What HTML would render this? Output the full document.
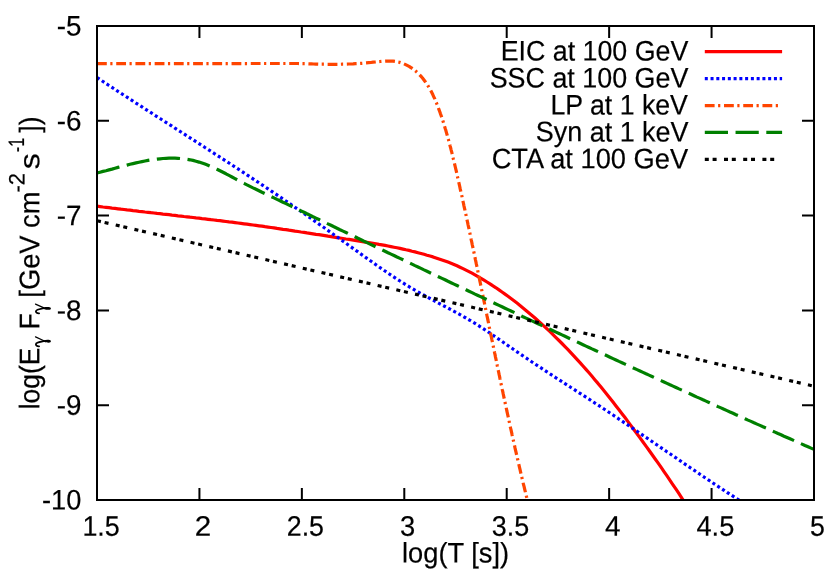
<!DOCTYPE html>
<html><head><meta charset="utf-8"><title>plot</title>
<style>
html,body{margin:0;padding:0;background:#fff;}
body{width:830px;height:581px;overflow:hidden;}
svg{display:block;will-change:transform;}
text{font-family:"Liberation Sans",sans-serif;font-size:28.3px;fill:#000;stroke:#000;stroke-width:0.2px;text-rendering:geometricPrecision;}
</style></head><body>
<svg width="830" height="581" viewBox="0 0 830 581">

<defs><clipPath id="c"><rect x="97" y="26" width="717" height="474"/></clipPath></defs>
<g clip-path="url(#c)">
<path d="M97.0 206.2L100.0 206.6L103.0 207.0L106.0 207.3L109.0 207.7L112.0 208.1L115.0 208.4L118.0 208.8L121.0 209.2L124.0 209.5L127.0 209.9L130.0 210.2L133.0 210.6L136.0 210.9L139.0 211.3L142.0 211.6L145.0 212.0L148.0 212.3L151.0 212.7L154.0 213.0L157.0 213.4L160.0 213.7L163.0 214.1L166.0 214.4L169.0 214.7L172.0 215.1L175.0 215.4L178.0 215.8L181.0 216.1L184.0 216.5L187.0 216.8L190.0 217.2L193.0 217.5L196.0 217.9L199.0 218.2L202.0 218.6L205.0 218.9L208.0 219.3L211.0 219.7L214.0 220.0L217.0 220.4L220.0 220.7L223.0 221.1L226.0 221.5L229.0 221.9L232.0 222.2L235.0 222.6L238.0 223.0L241.0 223.4L244.0 223.8L247.0 224.2L250.0 224.6L253.0 225.0L256.0 225.4L259.0 225.8L262.0 226.2L265.0 226.7L268.0 227.1L271.0 227.5L274.0 227.9L277.0 228.4L280.0 228.8L283.0 229.3L286.0 229.7L289.0 230.2L292.0 230.6L295.0 231.1L298.0 231.5L301.0 232.0L304.0 232.4L307.0 232.9L310.0 233.3L313.0 233.8L316.0 234.3L319.0 234.7L322.0 235.2L325.0 235.7L328.0 236.2L331.0 236.6L334.0 237.1L337.0 237.6L340.0 238.0L343.0 238.5L346.0 239.0L349.0 239.4L352.0 239.9L355.0 240.4L358.0 240.9L361.0 241.3L364.0 241.8L367.0 242.3L370.0 242.8L373.0 243.3L376.0 243.8L379.0 244.4L382.0 244.9L385.0 245.4L388.0 246.0L391.0 246.6L394.0 247.2L397.0 247.8L400.0 248.4L403.0 249.1L406.0 249.8L409.0 250.4L412.0 251.2L415.0 251.9L418.0 252.7L421.0 253.5L424.0 254.3L427.0 255.2L430.0 256.0L433.0 256.9L436.0 257.9L439.0 258.9L442.0 259.9L445.0 261.0L448.0 262.1L451.0 263.3L454.0 264.5L457.0 265.8L460.0 267.2L463.0 268.6L466.0 270.1L469.0 271.6L472.0 273.2L475.0 274.9L478.0 276.6L481.0 278.4L484.0 280.2L487.0 282.0L490.0 283.9L493.0 285.9L496.0 287.8L499.0 289.9L502.0 292.0L505.0 294.1L508.0 296.3L511.0 298.5L514.0 300.8L517.0 303.1L520.0 305.5L523.0 307.9L526.0 310.4L529.0 312.9L532.0 315.4L535.0 318.0L538.0 320.7L541.0 323.4L544.0 326.1L547.0 328.9L550.0 331.7L553.0 334.6L556.0 337.6L559.0 340.5L562.0 343.5L565.0 346.6L568.0 349.7L571.0 352.9L574.0 356.1L577.0 359.4L580.0 362.6L583.0 366.0L586.0 369.4L589.0 372.8L592.0 376.3L595.0 379.9L598.0 383.4L601.0 387.1L604.0 390.7L607.0 394.4L610.0 398.2L613.0 402.0L616.0 405.9L619.0 409.7L622.0 413.7L625.0 417.6L628.0 421.6L631.0 425.6L634.0 429.7L637.0 433.8L640.0 437.9L643.0 442.0L646.0 446.1L649.0 450.3L652.0 454.5L655.0 458.7L658.0 462.9L661.0 467.2L664.0 471.6L667.0 475.9L670.0 480.3L673.0 484.8L676.0 489.2L679.0 493.7L682.0 498.3L685.0 502.9L688.0 507.5L691.0 512.2L694.0 517.0L697.0 521.8" stroke="#ff0000" stroke-width="3.2" fill="none" stroke-linejoin="round"/>
<path d="M97.0 77.6L100.0 79.5L103.0 81.5L106.0 83.5L109.0 85.5L112.0 87.4L115.0 89.4L118.0 91.4L121.0 93.3L124.0 95.3L127.0 97.2L130.0 99.2L133.0 101.1L136.0 103.1L139.0 105.0L142.0 106.9L145.0 108.9L148.0 110.8L151.0 112.7L154.0 114.7L157.0 116.6L160.0 118.5L163.0 120.5L166.0 122.4L169.0 124.3L172.0 126.2L175.0 128.2L178.0 130.1L181.0 132.0L184.0 133.9L187.0 135.9L190.0 137.8L193.0 139.7L196.0 141.7L199.0 143.6L202.0 145.5L205.0 147.5L208.0 149.4L211.0 151.3L214.0 153.3L217.0 155.2L220.0 157.2L223.0 159.1L226.0 161.1L229.0 163.0L232.0 165.0L235.0 167.0L238.0 168.9L241.0 170.9L244.0 172.9L247.0 174.9L250.0 176.8L253.0 178.8L256.0 180.8L259.0 182.8L262.0 184.8L265.0 186.8L268.0 188.8L271.0 190.9L274.0 192.9L277.0 194.9L280.0 197.0L283.0 199.0L286.0 201.1L289.0 203.1L292.0 205.2L295.0 207.3L298.0 209.3L301.0 211.4L304.0 213.5L307.0 215.6L310.0 217.7L313.0 219.8L316.0 222.0L319.0 224.1L322.0 226.2L325.0 228.3L328.0 230.5L331.0 232.6L334.0 234.8L337.0 236.9L340.0 239.0L343.0 241.2L346.0 243.3L349.0 245.5L352.0 247.6L355.0 249.8L358.0 251.9L361.0 254.1L364.0 256.2L367.0 258.4L370.0 260.5L373.0 262.6L376.0 264.8L379.0 266.9L382.0 268.9L385.0 271.0L388.0 273.1L391.0 275.1L394.0 277.1L397.0 279.1L400.0 281.0L403.0 282.9L406.0 284.8L409.0 286.6L412.0 288.4L415.0 290.2L418.0 291.9L421.0 293.6L424.0 295.2L427.0 296.9L430.0 298.5L433.0 300.1L436.0 301.7L439.0 303.3L442.0 304.9L445.0 306.5L448.0 308.1L451.0 309.7L454.0 311.3L457.0 312.9L460.0 314.6L463.0 316.3L466.0 318.0L469.0 319.8L472.0 321.6L475.0 323.4L478.0 325.3L481.0 327.2L484.0 329.2L487.0 331.2L490.0 333.2L493.0 335.2L496.0 337.3L499.0 339.3L502.0 341.4L505.0 343.5L508.0 345.6L511.0 347.6L514.0 349.7L517.0 351.8L520.0 353.8L523.0 355.9L526.0 357.9L529.0 359.9L532.0 362.0L535.0 364.0L538.0 366.0L541.0 367.9L544.0 369.9L547.0 371.9L550.0 373.9L553.0 375.8L556.0 377.8L559.0 379.7L562.0 381.6L565.0 383.6L568.0 385.5L571.0 387.5L574.0 389.4L577.0 391.4L580.0 393.3L583.0 395.2L586.0 397.2L589.0 399.1L592.0 401.1L595.0 403.1L598.0 405.0L601.0 407.0L604.0 409.0L607.0 411.0L610.0 413.0L613.0 415.0L616.0 417.0L619.0 419.1L622.0 421.1L625.0 423.1L628.0 425.1L631.0 427.2L634.0 429.2L637.0 431.2L640.0 433.3L643.0 435.4L646.0 437.4L649.0 439.4L652.0 441.5L655.0 443.6L658.0 445.6L661.0 447.7L664.0 449.7L667.0 451.8L670.0 453.8L673.0 455.9L676.0 457.9L679.0 460.0L682.0 462.0L685.0 464.1L688.0 466.1L691.0 468.2L694.0 470.2L697.0 472.2L700.0 474.3L703.0 476.3L706.0 478.3L709.0 480.3L712.0 482.4L715.0 484.4L718.0 486.4L721.0 488.3L724.0 490.3L727.0 492.3L730.0 494.3L733.0 496.2L736.0 498.2L739.0 500.1L742.0 502.1L745.0 504.0L748.0 505.9L751.0 507.8L754.0 509.7L757.0 511.6" stroke="#0000ff" stroke-width="3.2" fill="none" stroke-linejoin="round" stroke-dasharray="3 2.76"/>
<path d="M97.0 63.6L298.0 63.5L300.2 63.6L302.5 63.7L304.7 63.7L307.0 63.8L309.2 63.9L311.4 63.9L313.6 64.0L315.9 64.1L318.1 64.1L320.3 64.2L322.5 64.2L324.7 64.2L326.9 64.3L329.1 64.3L331.2 64.3L333.4 64.3L335.6 64.3L337.8 64.3L340.0 64.3L342.2 64.2L344.4 64.2L346.5 64.1L348.7 64.0L350.9 64.0L353.1 63.9L355.3 63.7L357.5 63.6L359.7 63.5L361.9 63.3L364.2 63.1L366.4 62.9L368.6 62.7L370.9 62.5L373.1 62.2L375.4 62.0L377.6 61.7L379.9 61.5L382.1 61.3L384.4 61.2L386.6 61.1L388.8 61.0L391.0 61.1L393.2 61.2L395.3 61.5L397.4 61.9L399.5 62.3L401.6 63.0L403.6 63.7L405.6 64.6L407.6 65.6L409.5 66.6L411.3 67.8L413.1 69.1L414.8 70.4L416.5 71.8L418.1 73.3L419.6 74.8L421.1 76.4L422.5 78.0L423.8 79.7L425.1 81.5L426.4 83.3L427.6 85.1L428.7 87.0L429.8 88.9L430.9 90.8L431.9 92.8L432.9 94.8L433.8 96.8L434.8 98.9L435.6 101.0L436.5 103.0L437.3 105.1L438.1 107.2L438.9 109.4L439.7 111.5L440.4 113.6L441.2 115.7L441.9 117.9L442.6 120.0L443.3 122.1L443.9 124.2L444.6 126.4L445.2 128.5L445.9 130.6L446.5 132.8L447.1 134.9L447.7 137.0L448.3 139.2L448.9 141.3L449.5 143.4L450.0 145.6L450.6 147.7L451.1 149.8L451.7 152.0L452.2 154.1L452.7 156.3L453.2 158.4L453.8 160.5L454.3 162.7L454.8 164.8L455.3 167.0L455.8 169.1L456.3 171.2L456.8 173.4L457.2 175.5L457.7 177.7L458.2 179.8L458.7 182.0L459.2 184.1L459.7 186.3L460.1 188.4L460.6 190.6L461.1 192.7L461.6 194.9L462.1 197.0L462.5 199.2L463.0 201.3L463.5 203.5L463.9 205.6L464.4 207.8L464.9 209.9L465.3 212.1L465.8 214.2L466.3 216.4L466.7 218.6L467.2 220.7L467.7 222.9L468.1 225.0L468.6 227.2L469.1 229.3L469.5 231.5L470.0 233.7L470.4 235.8L470.9 238.0L471.3 240.1L471.8 242.3L472.2 244.5L472.7 246.6L473.2 248.8L473.6 250.9L474.1 253.1L474.5 255.3L475.0 257.4L475.4 259.6L475.9 261.8L476.3 263.9L476.8 266.1L477.2 268.2L477.7 270.4L478.1 272.6L478.6 274.8L479.0 276.9L479.5 279.1L479.9 281.2L480.4 283.4L480.8 285.6L481.2 287.7L481.7 289.9L482.1 292.1L482.6 294.2L483.0 296.4L483.5 298.6L483.9 300.7L484.4 302.9L484.8 305.1L485.2 307.2L485.7 309.4L486.1 311.6L486.6 313.8L487.0 315.9L487.5 318.1L487.9 320.2L488.4 322.4L488.8 324.6L489.2 326.8L489.7 328.9L490.1 331.1L490.6 333.3L491.0 335.4L491.5 337.6L491.9 339.8L492.4 341.9L492.8 344.1L493.3 346.3L493.7 348.4L494.2 350.6L494.6 352.8L495.1 354.9L495.5 357.1L496.0 359.3L496.4 361.4L496.9 363.6L497.3 365.8L497.8 367.9L498.2 370.1L498.7 372.3L499.1 374.4L499.6 376.6L500.0 378.8L500.5 380.9L500.9 383.1L501.4 385.3L501.9 387.4L502.3 389.6L502.8 391.8L503.2 393.9L503.7 396.1L504.1 398.2L504.6 400.4L505.1 402.6L505.5 404.7L506.0 406.9L506.5 409.1L506.9 411.2L507.4 413.4L507.9 415.6L508.4 417.7L508.8 419.9L509.3 422.0L509.8 424.2L510.2 426.4L510.7 428.5L511.2 430.7L511.7 432.8L512.1 435.0L512.6 437.1L513.1 439.3L513.6 441.4L514.1 443.6L514.6 445.8L515.0 447.9L515.5 450.1L516.0 452.2L516.5 454.4L517.0 456.5L517.5 458.7L518.0 460.8L518.5 463.0L519.0 465.1L519.5 467.3L520.0 469.4L520.5 471.6L521.0 473.8L521.5 475.9L522.0 478.0L522.5 480.2L523.0 482.3L523.5 484.5L524.1 486.6L524.6 488.8L525.1 490.9L525.6 493.1L526.1 495.2L526.7 497.4L527.2 499.5L527.7 501.6L528.2 503.8L528.8 505.9" stroke="#ff4500" stroke-width="3.2" fill="none" stroke-linejoin="round" stroke-dasharray="9.8 3.5 2.2 3.72"/>
<path d="M97.0 173.0L100.0 172.2L103.0 171.4L106.0 170.7L109.0 169.9L112.0 169.1L115.0 168.2L118.0 167.4L121.0 166.6L124.0 165.9L127.0 165.1L130.0 164.3L133.0 163.6L136.0 162.9L139.0 162.2L142.0 161.6L145.0 161.0L148.0 160.4L151.0 159.9L154.0 159.5L157.0 159.1L160.0 158.8L163.0 158.5L166.0 158.3L169.0 158.2L172.0 158.2L175.0 158.2L178.0 158.3L181.0 158.6L184.0 158.9L187.0 159.3L190.0 159.8L193.0 160.4L196.0 161.2L199.0 162.1L202.0 163.1L205.0 164.1L208.0 165.3L211.0 166.6L214.0 167.9L217.0 169.3L220.0 170.8L223.0 172.3L226.0 173.8L229.0 175.4L232.0 177.0L235.0 178.6L238.0 180.2L241.0 181.8L244.0 183.3L247.0 184.9L250.0 186.4L253.0 187.9L256.0 189.3L259.0 190.8L262.0 192.3L265.0 193.7L268.0 195.1L271.0 196.5L274.0 197.9L277.0 199.4L280.0 200.7L283.0 202.2L286.0 203.6L289.0 205.1L292.0 206.5L295.0 208.0L298.0 209.4L301.0 210.9L304.0 212.3L307.0 213.8L310.0 215.2L313.0 216.7L316.0 218.1L319.0 219.5L322.0 221.0L325.0 222.4L328.0 223.9L331.0 225.3L334.0 226.8L337.0 228.2L340.0 229.7L343.0 231.1L346.0 232.5L349.0 234.0L352.0 235.4L355.0 236.8L358.0 238.3L361.0 239.7L364.0 241.2L367.0 242.6L370.0 244.1L373.0 245.5L376.0 246.9L379.0 248.4L382.0 249.8L385.0 251.2L388.0 252.7L391.0 254.1L394.0 255.5L397.0 257.0L400.0 258.4L403.0 259.8L406.0 261.3L409.0 262.7L412.0 264.1L415.0 265.6L418.0 267.0L421.0 268.4L424.0 269.9L427.0 271.3L430.0 272.7L433.0 274.1L436.0 275.6L439.0 277.0L442.0 278.4L445.0 279.8L448.0 281.3L451.0 282.7L454.0 284.1L457.0 285.5L460.0 286.9L463.0 288.4L466.0 289.8L469.0 291.2L472.0 292.6L475.0 294.1L478.0 295.5L481.0 296.9L484.0 298.3L487.0 299.7L490.0 301.1L493.0 302.6L496.0 304.0L499.0 305.4L502.0 306.8L505.0 308.2L508.0 309.6L511.0 311.0L514.0 312.4L517.0 313.8L520.0 315.2L523.0 316.7L526.0 318.1L529.0 319.5L532.0 320.9L535.0 322.3L538.0 323.7L541.0 325.1L544.0 326.5L547.0 327.9L550.0 329.3L553.0 330.7L556.0 332.1L559.0 333.5L562.0 334.9L565.0 336.3L568.0 337.7L571.0 339.1L574.0 340.5L577.0 341.9L580.0 343.3L583.0 344.7L586.0 346.1L589.0 347.5L592.0 348.9L595.0 350.2L598.0 351.6L601.0 353.0L604.0 354.4L607.0 355.8L610.0 357.2L613.0 358.6L616.0 360.0L619.0 361.4L622.0 362.7L625.0 364.1L628.0 365.5L631.0 366.9L634.0 368.3L637.0 369.6L640.0 371.0L643.0 372.4L646.0 373.8L649.0 375.1L652.0 376.5L655.0 377.9L658.0 379.3L661.0 380.6L664.0 382.0L667.0 383.4L670.0 384.8L673.0 386.1L676.0 387.5L679.0 388.9L682.0 390.2L685.0 391.6L688.0 393.0L691.0 394.3L694.0 395.7L697.0 397.1L700.0 398.4L703.0 399.8L706.0 401.1L709.0 402.5L712.0 403.9L715.0 405.2L718.0 406.6L721.0 407.9L724.0 409.3L727.0 410.6L730.0 412.0L733.0 413.3L736.0 414.7L739.0 416.0L742.0 417.4L745.0 418.7L748.0 420.1L751.0 421.4L754.0 422.8L757.0 424.1L760.0 425.4L763.0 426.8L766.0 428.1L769.0 429.5L772.0 430.8L775.0 432.1L778.0 433.5L781.0 434.8L784.0 436.2L787.0 437.5L790.0 438.8L793.0 440.1L796.0 441.5L799.0 442.8L802.0 444.1L805.0 445.5L808.0 446.8L811.0 448.1L814.0 449.4L817.0 450.8" stroke="#008000" stroke-width="3.2" fill="none" stroke-linejoin="round" stroke-dasharray="23.2 7.55"/>
<path d="M97.0 220.7L814.0 386.2" stroke="#000000" stroke-width="3.2" fill="none" stroke-linejoin="round" stroke-dasharray="4 3.8 4 7.4"/>
</g>
<g stroke="#000" stroke-width="2" fill="none"><path d="M97.00 500V488M97.00 26V38"/><path d="M199.43 500V488M199.43 26V38"/><path d="M301.86 500V488M301.86 26V38"/><path d="M404.29 500V488M404.29 26V38"/><path d="M506.71 500V488M506.71 26V38"/><path d="M609.14 500V488M609.14 26V38"/><path d="M711.57 500V488M711.57 26V38"/><path d="M814.00 500V488M814.00 26V38"/><path d="M97 26.00H109M814 26.00H802"/><path d="M97 120.80H109M814 120.80H802"/><path d="M97 215.60H109M814 215.60H802"/><path d="M97 310.40H109M814 310.40H802"/><path d="M97 405.20H109M814 405.20H802"/><path d="M97 500.00H109M814 500.00H802"/>
<rect x="97" y="26" width="717" height="474"/></g>
<g><text transform="translate(82.40,535.80) rotate(0.03) scale(0.9500,1)">1.5</text><text transform="translate(194.75,535.80) rotate(0.03) scale(1.0462,1)">2</text><text transform="translate(286.75,535.80) rotate(0.03) scale(0.9459,1)">2.5</text><text transform="translate(400.04,535.80) rotate(0.03) scale(0.9643,1)">3</text><text transform="translate(491.85,535.80) rotate(0.03) scale(0.9514,1)">3.5</text><text transform="translate(604.91,535.80) rotate(0.03) scale(0.9857,1)">4</text><text transform="translate(696.44,535.80) rotate(0.03) scale(0.9622,1)">4.5</text><text transform="translate(810.06,535.80) rotate(0.03) scale(0.9429,1)">5</text></g>
<g><text transform="translate(56.82,35.60) rotate(0.03) scale(0.9826,1)">-5</text><text transform="translate(56.82,130.40) rotate(0.03) scale(0.9826,1)">-6</text><text transform="translate(56.82,225.20) rotate(0.03) scale(0.9826,1)">-7</text><text transform="translate(56.82,320.00) rotate(0.03) scale(0.9826,1)">-8</text><text transform="translate(56.82,414.80) rotate(0.03) scale(0.9826,1)">-9</text><text transform="translate(41.94,509.60) rotate(0.03) scale(0.9615,1)">-10</text></g>
<g><text transform="translate(500.71,60.50) rotate(0.03) scale(0.9464,1)">EIC at 100 GeV</text><path d="M704.8 51.7H782.1" stroke="#ff0000" stroke-width="3.2" fill="none"/><text transform="translate(489.70,87.45) rotate(0.03) scale(0.9493,1)">SSC at 100 GeV</text><path d="M704.8 78.7H782.1" stroke="#0000ff" stroke-width="3.2" fill="none" stroke-dasharray="3 2.76"/><text transform="translate(550.41,114.40) rotate(0.03) scale(0.9431,1)">LP at 1 keV</text><path d="M704.8 105.6H781.4" stroke="#ff4500" stroke-width="3.2" fill="none" stroke-dasharray="9.8 3.5 2.2 3.72"/><text transform="translate(535.80,141.35) rotate(0.03) scale(0.9519,1)">Syn at 1 keV</text><path d="M704.8 132.4H782.1" stroke="#008000" stroke-width="3.2" fill="none" stroke-dasharray="23.2 7.55"/><text transform="translate(491.64,168.30) rotate(0.03) scale(0.9631,1)">CTA at 100 GeV</text><path d="M704.8 159.3H781.4" stroke="#000000" stroke-width="3.2" fill="none" stroke-dasharray="4 3.8 4 7.4"/></g>
<text transform="translate(402.07,562.50) rotate(0.03) scale(0.9626,1)">log(T [s])</text>
<g transform="rotate(-90)"><text transform="translate(-409.37,39.30) rotate(0.03) scale(0.9349,1)">log(E</text><g transform="translate(-347.00,35.10) scale(1.039,1.000)" fill="none" stroke="#000" stroke-linecap="round"><path d="M0.6 4C0.5 1.8 1.4 0.8 2.6 0.8C4 0.8 4.6 3.2 5.7 8.6" stroke-width="1.8"/><path d="M9.8 0.4L6 8.8" stroke-width="1.2"/><path d="M5 8L6.4 8C6.9 10 7 12 6.9 13.5C6.8 15.2 6.2 15.8 5.5 15.8C4.7 15.8 4.1 15.2 4.1 13.5C4.1 12 4.5 10 5 8Z" fill="#000" stroke="none"/></g><text transform="translate(-329.57,39.30) rotate(0.03) scale(0.9357,1)">F</text><g transform="translate(-313.90,35.10) scale(1.000,1.000)" fill="none" stroke="#000" stroke-linecap="round"><path d="M0.6 4C0.5 1.8 1.4 0.8 2.6 0.8C4 0.8 4.6 3.2 5.7 8.6" stroke-width="1.8"/><path d="M9.8 0.4L6 8.8" stroke-width="1.2"/><path d="M5 8L6.4 8C6.9 10 7 12 6.9 13.5C6.8 15.2 6.2 15.8 5.5 15.8C4.7 15.8 4.1 15.2 4.1 13.5C4.1 12 4.5 10 5 8Z" fill="#000" stroke="none"/></g><text transform="translate(-297.63,39.30) rotate(0.03) scale(0.9632,1)">[GeV cm</text><text transform="translate(-192.58,24.40) rotate(0.03) scale(0.9833,1)" style="font-size:22.3px">-2</text><text transform="translate(-169.33,39.30) rotate(0.03) scale(1.1333,1)">s</text><text transform="translate(-152.23,24.40) rotate(0.03) scale(0.7333,1)" style="font-size:22.3px">-1</text><text transform="translate(-132.70,39.30) rotate(0.03) scale(0.9400,1)">])</text></g>
</svg>
</body></html>
